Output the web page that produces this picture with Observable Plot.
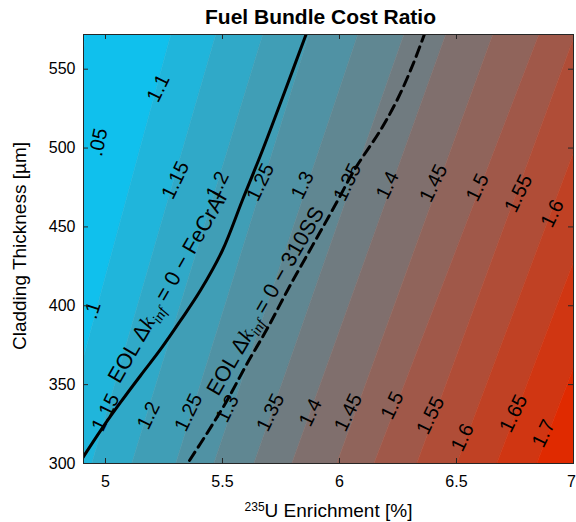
<!DOCTYPE html>
<html>
<head>
<meta charset="utf-8">
<script src="https://cdn.jsdelivr.net/npm/d3@7"></script>
<script src="https://cdn.jsdelivr.net/npm/@observablehq/plot@0.6"></script>
<style>
  html, body { margin: 0; padding: 0; background: #ffffff; }
  #chart { width: 576px; height: 522px; }
</style>
</head>
<body>
<div id="chart"></div>
<script>
// ---------- text ----------
const chartTitle = "Fuel Bundle Cost Ratio";
const xLabelSup = "235";
const xLabelMain = "U Enrichment [%]";
const yLabel = "Cladding Thickness [µm]";

// ---------- axes ----------
const xDomain = [4.906, 7.0];
const yDomain = [300, 572];
const xTicks = [5, 5.5, 6, 6.5, 7];
const yTicks = [300, 350, 400, 450, 500, 550];

// ---------- contour levels (x where each level crosses the bottom y=300 and the top y=572) ----------
const levels       = [1.05, 1.10, 1.15, 1.20, 1.25, 1.30, 1.35, 1.40, 1.45, 1.50, 1.55, 1.60, 1.65, 1.70];
const levelXBottom = [4.624, 4.786, 4.944, 5.115, 5.303, 5.466, 5.637, 5.799, 5.991, 6.150, 6.333, 6.504, 6.675, 6.846];
const levelXTop    = [4.919, 5.282, 5.474, 5.675, 5.872, 6.081, 6.278, 6.457, 6.658, 6.855, 7.009, 7.192, 7.372, 7.551];

// ---------- contour labels ----------
const labelText  = [".05", "1.1", ".1", "1.15", "1.2", "1.25", "1.3", "1.35", "1.4", "1.45", "1.5", "1.55", "1.6",
                    "1.15", "1.2", "1.25", "1.3", "1.35", "1.4", "1.45", "1.5", "1.55", "1.6", "1.65", "1.7"];
const labelX     = [4.970, 5.226, 4.944, 5.299, 5.479, 5.662, 5.842, 6.034, 6.205, 6.402, 6.590, 6.765, 6.910,
                    5.000, 5.184, 5.355, 5.521, 5.705, 5.876, 6.038, 6.226, 6.389, 6.526, 6.744, 6.872];
const labelY     = [503.7, 537.9, 397.1, 479.6, 476.4, 478.3, 476.4, 478.3, 476.4, 477.7, 475.1, 471.3, 458.6,
                    332.4, 330.5, 332.4, 334.9, 332.4, 332.4, 332.4, 336.8, 330.5, 316.5, 331.7, 319.0];
const labelAngle = [-78, -64, -72, -64, -64, -64, -64, -64, -64, -64, -64, -64, -64,
                    -64, -64, -64, -64, -64, -64, -64, -64, -64, -64, -64, -64];

// ---------- EOL Δk_inf = 0 curves ----------
const feCrAlX = [4.887, 4.979, 5.064, 5.150, 5.235, 5.321, 5.406, 5.500, 5.585, 5.671, 5.765, 5.859];
const feCrAlY = [300.0, 320.9, 338.7, 355.8, 372.3, 390.7, 409.8, 435.2, 466.9, 498.6, 535.4, 572.8];
const ss310X  = [5.359, 5.436, 5.517, 5.603, 5.692, 5.782, 5.885, 5.974, 6.068, 6.175, 6.252, 6.316, 6.363];
const ss310Y  = [301.9, 319.7, 339.3, 362.8, 385.7, 411.0, 438.3, 461.8, 487.2, 511.3, 532.2, 553.8, 572.2];

const curveNames = ["FeCrAl", "310SS"];
const curveLabelX = [5.265, 5.684];
const curveLabelY = [411.5, 403.0];
const curveLabelAngle = [-60, -60];

// ---------- build tables ----------
const bandRows = [];
for (let b = 0; b <= levels.length; b++) {
  const loB = b === 0 ? xDomain[0] - 1 : levelXBottom[b - 1];
  const loT = b === 0 ? xDomain[0] - 1 : levelXTop[b - 1];
  const hiB = b === levels.length ? xDomain[1] + 1 : levelXBottom[b];
  const hiT = b === levels.length ? xDomain[1] + 1 : levelXTop[b];
  bandRows.push({band: b, y: yDomain[0], x1: loB, x2: hiB});
  bandRows.push({band: b, y: yDomain[1], x1: loT, x2: hiT});
}
const feRows = feCrAlX.map((x, i) => ({x, y: feCrAlY[i]}));
const ssRows = ss310X.map((x, i) => ({x, y: ss310Y[i]}));
const labelIdx = labelText.map((_, i) => i);
const eolText = curveNames.map(n => "EOL Δkinf = 0 − " + n);

const W = 576, H = 522, mL = 83, mR = 3, mT = 34, mB = 59;
const frameW = W - mL - mR, frameH = H - mT - mB;
const fmt = d => String(d);

const plot = Plot.plot({
  width: W,
  height: H,
  marginLeft: mL,
  marginRight: mR,
  marginTop: mT,
  marginBottom: mB,
  style: {fontFamily: "'Liberation Sans', Arial, Helvetica, sans-serif", background: "#ffffff", overflow: "visible", color: "#000"},
  x: {domain: xDomain, label: null},
  y: {domain: yDomain, label: null},
  color: {type: "linear", domain: [0, levels.length], range: ["#00CCFF", "#E02A00"], interpolate: "rgb"},
  marks: [
    Plot.areaX(bandRows, {y: "y", x1: "x1", x2: "x2", z: "band", fill: "band", stroke: "band", strokeWidth: 0.6, clip: true}),
    Plot.line(feRows, {x: "x", y: "y", stroke: "#000", strokeWidth: 3, curve: "catmull-rom", clip: true}),
    Plot.line(ssRows, {x: "x", y: "y", stroke: "#000", strokeWidth: 3, strokeDasharray: "10,6", curve: "catmull-rom", clip: true}),
    Plot.text(labelIdx, {x: i => labelX[i], y: i => labelY[i], text: i => labelText[i], rotate: i => labelAngle[i], fontSize: 20, fill: "#000", clip: true}),
    Plot.text([0, 1], {x: i => curveLabelX[i], y: i => curveLabelY[i], text: i => eolText[i], rotate: i => curveLabelAngle[i], fontSize: 21.5, fill: "#000", clip: true}),
    Plot.frame({stroke: "#262626", strokeWidth: 1}),
    // inward tick marks on all four sides
    Plot.ruleX(xTicks, {x: d => d, insetTop: frameH - 5, stroke: "#262626"}),
    Plot.ruleX(xTicks, {x: d => d, insetBottom: frameH - 5, stroke: "#262626"}),
    Plot.ruleY(yTicks, {y: d => d, insetRight: frameW - 5, stroke: "#262626"}),
    Plot.ruleY(yTicks, {y: d => d, insetLeft: frameW - 5, stroke: "#262626"}),
    Plot.axisX(xTicks.slice(0, -1), {anchor: "bottom", tickSize: 0, tickPadding: 12, fontSize: 16, label: null, tickFormat: fmt}),
    Plot.axisX(xTicks.slice(-1), {anchor: "bottom", tickSize: 0, tickPadding: 12, fontSize: 16, label: null, tickFormat: fmt, dx: -2}),
    Plot.axisY(yTicks, {anchor: "left", tickSize: 0, tickPadding: 8, fontSize: 16, label: null, tickFormat: fmt}),
    Plot.text([chartTitle], {frameAnchor: "top", dy: -17, dx: -8, fontSize: 21, fontWeight: "bold", fill: "#000", lineAnchor: "middle", textAnchor: "middle"}),
    Plot.text([xLabelSup + xLabelMain], {frameAnchor: "bottom", dy: 47, fontSize: 19, fill: "#000", lineAnchor: "middle", textAnchor: "middle"}),
    Plot.text([yLabel], {frameAnchor: "left", dx: -64, dy: -3, rotate: -90, fontSize: 19, fill: "#000", lineAnchor: "middle", textAnchor: "middle"})
  ]
});

document.getElementById("chart").appendChild(plot);

// ---------- rich text (superscript / subscript) ----------
const NS = "http://www.w3.org/2000/svg";
function tspan(parent, txt, attrs) {
  const t = document.createElementNS(NS, "tspan");
  for (const k in attrs) t.setAttribute(k, attrs[k]);
  t.textContent = txt;
  parent.appendChild(t);
  return t;
}
plot.querySelectorAll("text").forEach(el => {
  const s = el.textContent;
  if (s === xLabelSup + xLabelMain) {
    el.textContent = "";
    tspan(el, xLabelSup, {"font-size": "12", dy: "-6"});
    tspan(el, xLabelMain, {dy: "6"});
  } else if (eolText.includes(s)) {
    const name = curveNames[eolText.indexOf(s)];
    el.textContent = "";
    tspan(el, "EOL Δ", {});
    tspan(el, "k", {"font-style": "italic", "font-family": "'Liberation Serif', 'DejaVu Serif', serif"});
    tspan(el, "inf", {"font-style": "italic", "font-family": "'Liberation Serif', 'DejaVu Serif', serif", "font-size": "15", dy: "5"});
    tspan(el, " = 0 − " + name, {dy: "-5"});
  }
});
</script>
</body>
</html>
